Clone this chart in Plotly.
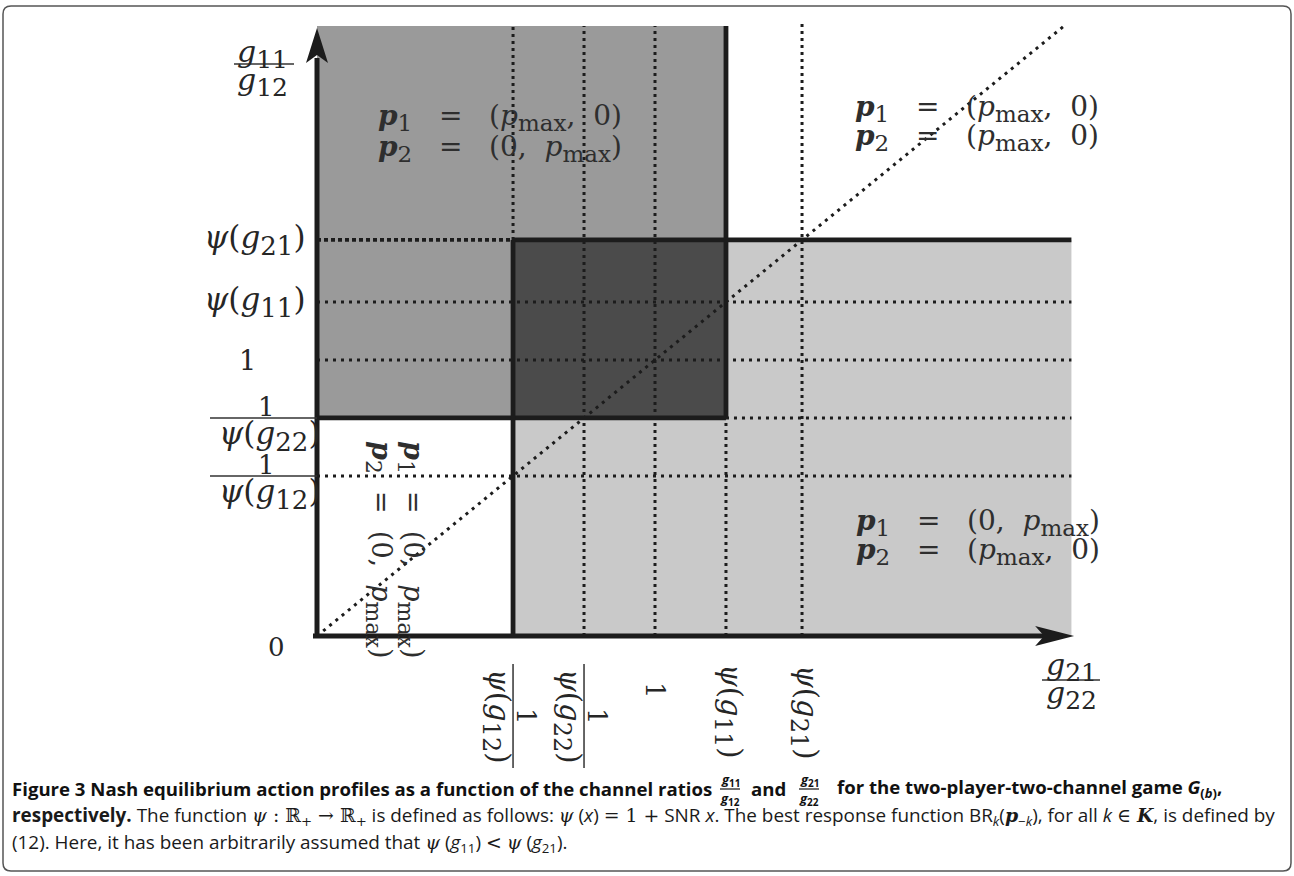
import plotly.graph_objects as go

W, H = 1294, 876

# ---------------- data ----------------
# threshold ratios shared by both axes: 1/psi(g12), 1/psi(g22), 1, psi(g11), psi(g21)
threshold_values = [0.58, 0.79, 1.0, 1.21, 1.435]
threshold_numerators = ["1", "1", None, None, None]
threshold_psi_args = ["12", "22", None, "11", "21"]   # None -> plain "1"
shade_x_end = 2.232
shade_y_end = 2.21
axis_x_end = 2.24
axis_y_end = 2.203
diagonal_end = 2.215

region_names = ["top_left", "top_right", "bottom_right", "bottom_left"]
region_p1 = ["(pmax, 0)", "(pmax, 0)", "(0, pmax)", "(0, pmax)"]
region_p2 = ["(0, pmax)", "(pmax, 0)", "(pmax, 0)", "(0, pmax)"]

# ---------------- layout helpers (pixel -> data) ----------------
X0, Y0, SX, SY = 317, 636, 338, 276


def dx(px):
    return (px - X0) / SX


def dy(py):
    return (Y0 - py) / SY


def pxp(px):
    return px / W


def pyp(py):
    return 1 - py / H


MATH = "DejaVu Serif"
CAP = "Open Sans"
INK = "#1c1c1c"
TXT = "#262626"


def SUB(t, px):
    return f'<sub><span style="font-size:{px}px">{t}</span></sub>'


def psi_of(arg, subpx):
    return f"<i>ψ</i>(<i>g</i>{SUB(arg, subpx)})"


v12, v22, v1, v11, v21 = threshold_values

shapes = []


def rect(x0, y0, x1, y1, color):
    shapes.append(dict(type="rect", xref="x", yref="y", x0=x0, y0=y0, x1=x1, y1=y1,
                       fillcolor=color, line=dict(width=0), layer="below"))


def seg(x0, y0, x1, y1, width, color=INK, dash=None, xref="x", yref="y"):
    ln = dict(width=width, color=color)
    if dash:
        ln["dash"] = dash
    shapes.append(dict(type="line", xref=xref, yref=yref, x0=x0, y0=y0, x1=x1, y1=y1,
                       line=ln, layer="above"))


# shaded regions
rect(v12, 0, shade_x_end, v21, "#c9c9c9")
rect(0, v22, v11, shade_y_end, "#9a9a9a")
rect(v12, v22, v11, v21, "#4b4b4b")

DW = 3
DOT = "3px,4px"
HDOT = "3px,5px"
# dotted grid
seg(v12, v21, v12, shade_y_end, DW, dash=DOT)
seg(v22, 0, v22, shade_y_end, DW, dash=DOT)
seg(v1, 0, v1, shade_y_end, DW, dash=DOT)
seg(v11, 0, v11, v22, DW, dash=DOT)
seg(v21, 0, v21, shade_y_end + 0.01, DW, dash=DOT)
seg(0, v21, v12, v21, 3.8, dash="4px,3px")
seg(0, v11, shade_x_end, v11, DW, dash=HDOT)
seg(0, v1, shade_x_end, v1, DW, dash=HDOT)
seg(v11, v22, shade_x_end, v22, DW, dash=HDOT)
seg(0, v12, shade_x_end, v12, DW, dash=HDOT)
seg(0, 0, diagonal_end, diagonal_end, DW, dash="3px,5px")

# thick boundaries
TW = 4.8
seg(v11, v22, v11, shade_y_end, TW)
seg(v12, v21, shade_x_end, v21, TW)
seg(0, v22, v11, v22, TW)
seg(v12, 0, v12, v21, TW)

# axes
seg(0, -2 / SY, 0, axis_y_end - 30 / SY, 5)
seg(-4 / SX, 0, axis_x_end - 30 / SX, 0, 5)
# arrowheads derived from axis ends
hy_len, hy_half, hy_notch = 35 / SY, 11 / SX, 27 / SY
shapes.append(dict(type="path", xref="x", yref="y", layer="above",
                   path=f"M 0,{axis_y_end} L {hy_half},{axis_y_end - hy_len} L 0,{axis_y_end - hy_notch} "
                        f"L {-hy_half},{axis_y_end - hy_len} Z",
                   fillcolor=INK, line=dict(width=0)))
hx_len, hx_half, hx_notch = 39 / SX, 10 / SY, 30 / SX
shapes.append(dict(type="path", xref="x", yref="y", layer="above",
                   path=f"M {axis_x_end},0 L {axis_x_end - hx_len},{hx_half} L {axis_x_end - hx_notch},0 "
                        f"L {axis_x_end - hx_len},{-hx_half} Z",
                   fillcolor=INK, line=dict(width=0)))

annotations = []


def txt(x, y, text, size=26, color=TXT, family=MATH, xanchor="center", yanchor="middle",
        angle=0, xref="x", yref="y"):
    annotations.append(dict(x=x, y=y, xref=xref, yref=yref, text=text, showarrow=False,
                            xanchor=xanchor, yanchor=yanchor, textangle=angle,
                            font=dict(family=family, size=size, color=color)))


# y tick labels
for val, num, arg in zip(threshold_values, threshold_numerators, threshold_psi_args):
    ypx = Y0 - val * SY
    if arg is None:
        txt(dx(247), val, "1", size=27)
    elif num is None:
        txt(dx(307), val, psi_of(arg, 26), size=31, xanchor="right")
    else:
        txt(dx(266), dy(ypx - 11), num, size=26)
        seg(dx(210), val, dx(317), val, 1.5, color="#333")
        txt(dx(322), dy(ypx + 18), psi_of(arg, 26), size=31, xanchor="right")
txt(dx(276), dy(647), "0", size=26)

# x tick labels (rotated)
for val, num, arg in zip(threshold_values, threshold_numerators, threshold_psi_args):
    xpx = X0 + val * SX
    if arg is None:
        txt(val, dy(690), "1", size=26, angle=90)
    elif num is None:
        txt(val + 3 / SX, dy(712), psi_of(arg, 24), size=29, angle=90)
    else:
        seg(val, dy(664), val, dy(768), 1.5, color="#333")
        txt(dx(xpx - 16), dy(716), psi_of(arg, 24), size=29, angle=90)
        txt(dx(xpx + 13), dy(716), num, size=26, angle=90)

# axis titles (fractions)
txt(dx(262), dy(54), "<i>g</i>" + SUB("11", 25), size=30)
seg(dx(234), dy(64), dx(294), dy(64), 1.5, color="#333")
txt(dx(262), dy(82), "<i>g</i>" + SUB("12", 25), size=30)
txt(dx(1071), dy(667), "<i>g</i>" + SUB("21", 25), size=30)
seg(dx(1042), dy(680), dx(1100), dy(680), 1.5, color="#333")
txt(dx(1071), dy(695), "<i>g</i>" + SUB("22", 25), size=30)

# region labels
P = "<b><i>p</i></b>"


def plabel(k, val, subpx, sp):
    pmax = "<i>p</i>" + SUB("max", subpx)
    gap = " " * sp
    return f"{P}{SUB(k, subpx)}{gap}={gap}" + val.replace("pmax", pmax).replace(", ", ",  ")


region_pos = {
    "top_left": (376, 117, 148),
    "top_right": (853, 108, 137),
    "bottom_right": (854, 522, 551),
}
LBL = "#2e2e2e"
for name, a, b in zip(region_names, region_p1, region_p2):
    if name in region_pos:
        x, y1, y2 = region_pos[name]
        txt(dx(x), dy(y1), plabel(1, a, 23, 3), size=28, xanchor="left", color=LBL)
        txt(dx(x), dy(y2), plabel(2, b, 23, 3), size=28, xanchor="left", color=LBL)
    else:
        txt(dx(411), dy(550), plabel(1, a, 22, 2), size=27, angle=90, color=LBL)
        txt(dx(379), dy(550), plabel(2, b, 22, 2), size=27, angle=90, color=LBL)

# ---------------- caption ----------------
SER = "font-family:'DejaVu Serif'"
CS = 18.6
CS2 = 18.9
CC = "#111"
txt(pxp(10), pyp(788), "<b>Figure 3 Nash equilibrium action profiles as a function of the channel ratios</b>",
    size=CS, family=CAP, color=CC, xanchor="left", xref="paper", yref="paper")
for cx, num, den in [(730, "11", "12"), (809, "21", "22")]:
    txt(pxp(cx), pyp(780), "<b><i>g</i></b>" + SUB(f"<b>{num}</b>", 10), size=13, family=CAP, color=CC,
        xref="paper", yref="paper")
    seg(pxp(cx - 10), pyp(789), pxp(cx + 10), pyp(789), 1.2, color=CC, xref="paper", yref="paper")
    txt(pxp(cx), pyp(799), "<b><i>g</i></b>" + SUB(f"<b>{den}</b>", 10), size=13, family=CAP, color=CC,
        xref="paper", yref="paper")
txt(pxp(768), pyp(788), "<b>and</b>", size=CS, family=CAP, color=CC, xref="paper", yref="paper")
txt(pxp(1224), pyp(788), "<b>for the two-player-two-channel game <i>G</i><sub>(<i>b</i>)</sub>,</b>",
    size=CS, family=CAP, color=CC, xanchor="right", xref="paper", yref="paper")

line2 = ("<b>respectively.</b> The function "
         f"<span style=\"{SER}\"><i>ψ</i> : ℝ<sub>+</sub> → ℝ<sub>+</sub></span> is defined as follows: "
         f"<span style=\"{SER}\"><i>ψ</i></span> (<i>x</i>) <span style=\"{SER}\">= 1 +</span> SNR <i>x</i>. "
         "The best response function BR<sub><i>k</i></sub>"
         f"(<span style=\"{SER}\"><b><i>p</i></b></span><sub>−<i>k</i></sub>), for all <i>k</i> "
         f"<span style=\"{SER}\">∈ <b><i>K</i></b></span>, is defined by")
txt(pxp(10), pyp(816), line2, size=CS2, family=CAP, color="#1a1a1a", xanchor="left",
    xref="paper", yref="paper")
line3 = ("(12). Here, it has been arbitrarily assumed that "
         f"<span style=\"{SER}\"><i>ψ</i></span> (<i>g</i><sub>11</sub>) <span style=\"{SER}\">&lt;</span> "
         f"<span style=\"{SER}\"><i>ψ</i></span> (<i>g</i><sub>21</sub>).")
txt(pxp(10), pyp(843), line3, size=CS2, family=CAP, color="#1a1a1a", xanchor="left",
    xref="paper", yref="paper")

# ---------------- frame (rounded box) ----------------
fx0, fy0, fx1, fy1, r = 3, 6, 1291, 871, 8
frame_path = (f"M {pxp(fx0 + r)},{pyp(fy0)} L {pxp(fx1 - r)},{pyp(fy0)} "
              f"Q {pxp(fx1)},{pyp(fy0)} {pxp(fx1)},{pyp(fy0 + r)} "
              f"L {pxp(fx1)},{pyp(fy1 - r)} Q {pxp(fx1)},{pyp(fy1)} {pxp(fx1 - r)},{pyp(fy1)} "
              f"L {pxp(fx0 + r)},{pyp(fy1)} Q {pxp(fx0)},{pyp(fy1)} {pxp(fx0)},{pyp(fy1 - r)} "
              f"L {pxp(fx0)},{pyp(fy0 + r)} Q {pxp(fx0)},{pyp(fy0)} {pxp(fx0 + r)},{pyp(fy0)} Z")
shapes.append(dict(type="path", xref="paper", yref="paper", path=frame_path,
                   line=dict(color="#555", width=1.5), layer="above"))

fig = go.Figure()
fig.update_layout(
    width=W, height=H,
    margin=dict(l=0, r=0, t=0, b=0),
    paper_bgcolor="white", plot_bgcolor="white",
    xaxis=dict(range=[dx(0), dx(W)], visible=False, fixedrange=True),
    yaxis=dict(range=[dy(H), dy(0)], visible=False, fixedrange=True),
    shapes=shapes,
    annotations=annotations,
    showlegend=False,
)
fig.write_html("out.html", config={"displayModeBar": False},
               post_script="document.body.style.margin='0';document.documentElement.style.overflow='hidden';")
